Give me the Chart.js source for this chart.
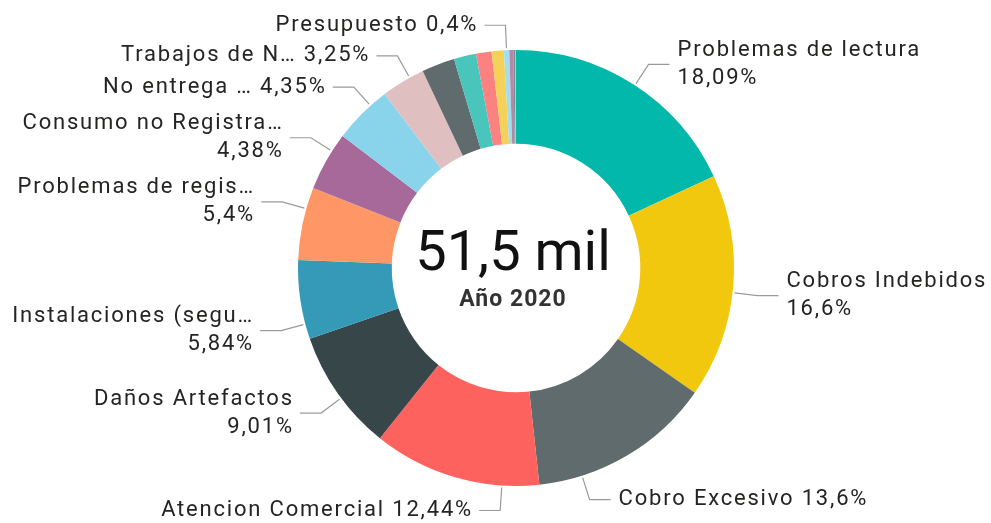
<!DOCTYPE html>
<html>
<head>
<meta charset="utf-8">
<script src="https://cdn.jsdelivr.net/npm/chart.js@4/dist/chart.umd.min.js"></script>
<style>
  html, body { margin: 0; padding: 0; background: #ffffff; }
  #wrap { width: 991px; height: 523px; position: relative; }
</style>
</head>
<body>
<div id="wrap"><canvas id="c" width="991" height="523"></canvas></div>
<script>
// ---- data ----
const categories = [
  "Problemas de lectura", "Cobros Indebidos", "Cobro Excesivo", "Atencion Comercial",
  "Daños Artefactos", "Instalaciones (segu…", "Problemas de regis…", "Consumo no Registra…",
  "No entrega …", "Trabajos de N…", "", "", "", "", "Presupuesto", "", "", ""
];
const shares = [
  18.09, 16.6, 13.6, 12.44,
  9.01, 5.84, 5.4, 4.38,
  4.35, 3.25, 2.45, 1.65, 1.15, 0.9, 0.4, 0.3, 0.12, 0.07
];
const sliceColors = [
  "#01B8AA", "#F2C80F", "#5F6B6D", "#FD625E",
  "#374649", "#3599B8", "#FE9666", "#A66999",
  "#8AD4EB", "#DFBFBF", "#5F6B6D", "#4AC5BB", "#FB8281", "#F4D25A", "#A4DDEE", "#B687AC", "#7F898A", "#FDAB89"
];
const totalLabel = "51,5 mil";
const subtitleLabel = "Año 2020";

// ---- label layout (which slices get a label, and how) ----
const labelLayout = [
  { i: 0, twoLines: true,  shiftDeg: 0.5 },
  { i: 1, twoLines: true,  shiftDeg: 1.5 },
  { i: 2, twoLines: false, shiftDeg: 13 },
  { i: 3, twoLines: false, shiftDeg: -12.5 },
  { i: 4, twoLines: true,  shiftDeg: -1.5 },
  { i: 5, twoLines: true,  shiftDeg: -6.5 },
  { i: 6, twoLines: true,  shiftDeg: 4 },
  { i: 7, twoLines: true,  shiftDeg: 3 },
  { i: 8, twoLines: false, shiftDeg: 3 },
  { i: 9, twoLines: false, shiftDeg: 2 },
  { i: 14, twoLines: false, shiftDeg: 0 }
];

const FONT_FAMILY = "Roboto, 'Noto Sans', sans-serif";
const fmtPct = v => String(v).replace('.', ',') + '%';

const labelPlugin = {
  id: 'pbiLabels',
  afterDatasetsDraw(chart) {
    const ctx = chart.ctx;
    const arcs = chart.getDatasetMeta(0).data;
    ctx.save();
    ctx.textBaseline = 'middle';
    labelLayout.forEach(l => {
      const a = arcs[l.i];
      const p = a.getProps(['x', 'y', 'startAngle', 'endAngle', 'outerRadius'], true);
      const mid = (p.startAngle + p.endAngle) / 2 + l.shiftDeg * Math.PI / 180;
      const ax = p.x + Math.cos(mid) * (p.outerRadius + 2);
      const ay = p.y + Math.sin(mid) * (p.outerRadius + 2);
      const ex = p.x + Math.cos(mid) * (p.outerRadius + 25);
      const ey = p.y + Math.sin(mid) * (p.outerRadius + 25);
      const right = Math.cos(mid) >= 0;
      const dir = right ? 1 : -1;
      const hx = ex + dir * 21;
      ctx.letterSpacing = '0px';
      ctx.strokeStyle = '#9A9A9A';
      ctx.lineWidth = 1.2;
      ctx.beginPath();
      ctx.moveTo(ax, ay);
      ctx.lineTo(ex, ey);
      ctx.lineTo(hx, ey);
      ctx.stroke();
      const tx = hx + dir * 8;
      ctx.font = "22px " + FONT_FAMILY;
      ctx.letterSpacing = '1.8px';
      ctx.textAlign = right ? 'left' : 'right';
      ctx.fillStyle = '#252423';
      const name = categories[l.i];
      const pct = fmtPct(shares[l.i]);
      const adj = right ? 0 : 1.8; // compensate trailing spacing for right-aligned text
      if (l.twoLines) {
        ctx.fillText(name, tx + adj, ey - 14);
        ctx.fillText(pct, tx + adj, ey + 14);
      } else {
        ctx.fillText(name + ' ' + pct, tx + adj, ey);
      }
    });
    // centre text
    const c = arcs[0];
    const cx = c.x - 3, cy = c.y;
    ctx.textAlign = 'center';
    ctx.fillStyle = '#111111';
    ctx.letterSpacing = '0px';
    ctx.font = "56px " + FONT_FAMILY;
    ctx.fillText(totalLabel, cx, cy - 12);
    ctx.fillStyle = '#333333';
    ctx.letterSpacing = '1px';
    ctx.font = "bold 23px " + FONT_FAMILY;
    ctx.fillText(subtitleLabel, cx, cy + 32);
    ctx.restore();
  }
};

new Chart(document.getElementById('c'), {
  type: 'doughnut',
  data: {
    labels: categories,
    datasets: [{
      data: shares,
      backgroundColor: sliceColors,
      borderWidth: 0
    }]
  },
  options: {
    responsive: false,
    animation: false,
    cutout: '57%',
    layout: { padding: { top: 50, bottom: 37, left: 298, right: 257 } },
    plugins: { legend: { display: false }, tooltip: { enabled: false } }
  },
  plugins: [labelPlugin]
});
</script>
</body>
</html>
